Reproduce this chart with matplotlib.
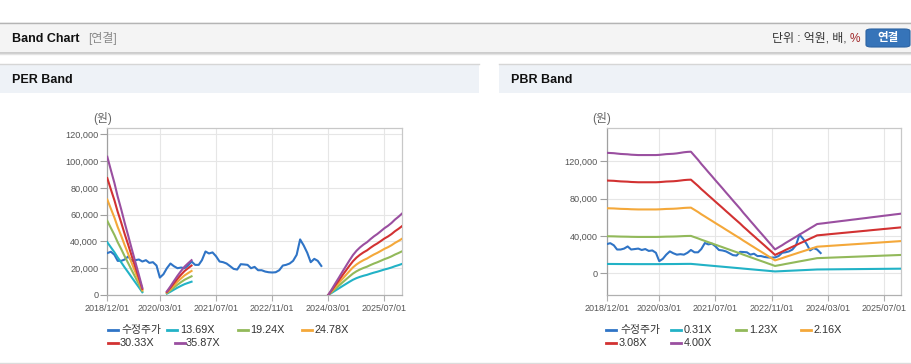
import numpy as np
import pandas as pd
import matplotlib
matplotlib.use("Agg")
import matplotlib.pyplot as plt
from matplotlib.patches import Rectangle, FancyBboxPatch
from matplotlib.lines import Line2D
from matplotlib.ticker import FuncFormatter

plt.rcParams['font.family'] = ['Liberation Sans', 'Noto Sans CJK KR', 'DejaVu Sans']

# ---------------- data ----------------
months = pd.date_range('2018-12-01', periods=85, freq='MS')

price = [31300, 32300, 30000, 25500, 25500, 26500, 28800, 25500, 26000, 26500,
         25000, 26000, 24000, 24500, 22000, 13000, 15500, 20000, 23500, 21500,
         20000, 20500, 20000, 22000, 25000, 22500, 22500, 26000, 32500, 31000,
         31800, 29000, 25000, 24500, 23500, 21500, 19500, 19000, 23000, 22800,
         22500, 20000, 21000, 18500, 18500, 17500, 17000, 16800, 17000, 18500,
         22000, 22500, 23500, 25500, 30000, 41500, 37000, 31500, 24500, 27000,
         25500, 21700]

# EPS used for PER band (None = no band)
eps = ([2878, 2600, 2330, 2050, 1780, 1500, 1230, 960, 690, 420, 150]
       + [None] * 6
       + [75, 180, 290, 400, 500, 590, 660, 725]
       + [None] * 38
       + [0, 120, 240, 360, 480, 600, 720, 830, 920, 990, 1050, 1100, 1160,
          1220, 1270, 1330, 1390, 1440, 1500, 1570, 1630, 1695])

# BPS used for PBR band
bps = ([32300, 32250, 32200, 32100, 32000, 31950, 31900, 31800, 31750, 31700,
        31700, 31700, 31700, 31700, 31700, 31750, 31850, 31950, 32000, 32050,
        32150, 32300, 32450, 32550, 32600]
       + [31510, 30420, 29320, 28230, 27140, 26050, 24960, 23870, 22780, 21680,
          20590, 19500, 18410, 17320, 16230, 15140, 14040, 12950, 11860, 10770,
          9680, 8590, 7500, 6400]
       + [6970, 7530, 8100, 8670, 9230, 9800, 10370, 10930, 11500, 12070,
          12630, 13200]
       + [13320, 13430, 13550, 13670, 13780, 13900, 14020, 14130, 14250, 14370,
          14480, 14600, 14720, 14830, 14950, 15070, 15180, 15300, 15420, 15530,
          15650, 15770, 15880, 16000])

per_multiples = [13.69, 19.24, 24.78, 30.33, 35.87]
pbr_multiples = [0.31, 1.23, 2.16, 3.08, 4.00]
per_labels = ['13.69X', '19.24X', '24.78X', '30.33X', '35.87X']
pbr_labels = ['0.31X', '1.23X', '2.16X', '3.08X', '4.00X']
price_label = '수정주가'

tick_dates = ['2018-12-01', '2020-03-01', '2021-07-01', '2022-11-01', '2024-03-01', '2025-07-01']
tick_labels = ['2018/12/01', '2020/03/01', '2021/07/01', '2022/11/01', '2024/03/01', '2025/07/01']

# ---------------- style ----------------
price_color = '#2f74c6'
band_colors = ['#22b2c6', '#92b95a', '#f4a83a', '#d23232', '#9a4fa0']

W, H = 912, 364
fig = plt.figure(figsize=(W / 100, H / 100), dpi=100)
fig.patch.set_facecolor('white')


def fx(x):
    return x / W


def fy(y):
    return 1 - y / H


def rect(x0, y0, x1, y1, **kw):
    fig.add_artist(Rectangle((fx(x0), fy(y1)), (x1 - x0) / W, (y1 - y0) / H,
                             transform=fig.transFigure, **kw))


def hline(x0, x1, y, color, lw):
    fig.add_artist(Line2D([fx(x0), fx(x1)], [fy(y), fy(y)], transform=fig.transFigure,
                          color=color, lw=lw))


# top bar
rect(0, 22, W, 53, facecolor='#f4f4f4', edgecolor='none')
hline(0, W, 22.5, '#b4b4b4', 1.0)
hline(0, W, 53, '#c4c4c4', 1.2)
hline(0, W, 54.3, '#e4e4e4', 1.0)
fig.text(fx(12), fy(38.5), 'Band Chart', fontsize=9, fontweight='bold', color='#111', va='center')
fig.text(fx(88), fy(38.5), '[연결]', fontsize=8.6, color='#8a8a8a', va='center')
fig.text(fx(860), fy(38.5), '%', fontsize=8.6, color='#a0282a', va='center', ha='right')
fig.text(fx(850), fy(38.5), '단위 : 억원, 배, ', fontsize=8.6, color='#333', va='center', ha='right')
fig.add_artist(FancyBboxPatch((fx(866), fy(47)), 44 / W, 18 / H,
                              boxstyle='round,pad=0,rounding_size=0.006',
                              transform=fig.transFigure, facecolor='#3674b9',
                              edgecolor='#2c63a3', lw=0.8))
fig.text(fx(888), fy(38.5), '연결', fontsize=8.3, fontweight='bold', color='white',
         va='center', ha='center')

# panel headers
for (x0, x1, title) in [(0, 479, 'PER Band'), (499, W, 'PBR Band')]:
    rect(x0, 64, x1, 93, facecolor='#eef2f7', edgecolor='none')
    hline(x0, x1, 64.3, '#d6d6d6', 1.0)
    fig.text(fx(x0 + 12), fy(80), title, fontsize=9, fontweight='bold', color='#111', va='center')
hline(0, W, 362.5, '#dcdcdc', 1.0)

fmt = FuncFormatter(lambda v, _: f'{int(v):,}')
tick_dt = pd.to_datetime(tick_dates)


def setup_axes(ax, ylim, yticks):
    ax.set_facecolor('white')
    ax.set_xlim(months[0], months[-1])
    ax.set_ylim(*ylim)
    ax.set_yticks(yticks)
    ax.yaxis.set_major_formatter(fmt)
    ax.set_xticks(tick_dt)
    ax.set_xticklabels(tick_labels)
    ax.grid(True, color='#e6e6e6', lw=0.8)
    ax.set_axisbelow(True)
    for s in ['top', 'right']:
        ax.spines[s].set_color('#c8c8c8')
    ax.spines['left'].set_color('#a0a0a0')
    ax.spines['bottom'].set_color('#b0b0b0')
    for s in ax.spines.values():
        s.set_linewidth(0.9)
    ax.tick_params(axis='y', length=5, width=0.8, color='#a0a0a0', labelsize=6.6,
                   labelcolor='#555', pad=1.5)
    ax.tick_params(axis='x', length=4, width=0.8, color='#b0b0b0', labelsize=6.5,
                   labelcolor='#555', pad=2.5)


def draw_legend(items, y_rows, lw=2.0):
    for (mx, tx, row, label, color) in items:
        y = y_rows[row]
        fig.add_artist(Line2D([fx(mx), fx(mx + 10)], [fy(y), fy(y)],
                              transform=fig.transFigure, color=color, lw=lw))
        fig.text(fx(tx), fy(y), label, fontsize=7.8, color='#333', va='center')


price_x = months[:len(price)]

# PER axes
ax1 = fig.add_axes([fx(107.3), fy(295), (402 - 107.3) / W, (295 - 128) / H])
setup_axes(ax1, (0, 124700), [0, 20000, 40000, 60000, 80000, 100000, 120000])
ax1.plot(price_x, price, color=price_color, lw=1.5, zorder=3)
eps_arr = np.array([np.nan if v is None else v for v in eps], dtype=float)
for m, c in zip(per_multiples, band_colors):
    ax1.plot(months, eps_arr * m, color=c, lw=1.5, zorder=4)
fig.text(fx(102.5), fy(118.3), '(원)', fontsize=8.5, color='#666', ha='center', va='center')

# PBR axes
ax2 = fig.add_axes([fx(606.7), fy(295.3), (901.3 - 606.7) / W, (295.3 - 128.3) / H])
setup_axes(ax2, (-23600, 155500), [0, 40000, 80000, 120000])
ax2.plot(price_x, price, color=price_color, lw=1.5, zorder=3)
bps_arr = np.array(bps, dtype=float)
for m, c in zip(pbr_multiples, band_colors):
    ax2.plot(months, bps_arr * m, color=c, lw=1.5, zorder=4)
fig.text(fx(601.5), fy(118.3), '(원)', fontsize=8.5, color='#666', ha='center', va='center')

# legends
per_items = [(107.7, 121, 0, price_label, price_color),
             (167, 180, 0, per_labels[0], band_colors[0]),
             (237.7, 250, 0, per_labels[1], band_colors[1]),
             (301.7, 315, 0, per_labels[2], band_colors[2]),
             (107.7, 120, 1, per_labels[3], band_colors[3]),
             (175, 186, 1, per_labels[4], band_colors[4])]
draw_legend(per_items, [330, 343.3])
pbr_items = [(606, 620, 0, price_label, price_color),
             (670.7, 684, 0, pbr_labels[0], band_colors[0]),
             (736, 749, 0, pbr_labels[1], band_colors[1]),
             (800.7, 814, 0, pbr_labels[2], band_colors[2]),
             (606, 619, 1, pbr_labels[3], band_colors[3]),
             (670.7, 684, 1, pbr_labels[4], band_colors[4])]
draw_legend(pbr_items, [330, 343.3])

fig.savefig('out.png', dpi=100, facecolor='white')
